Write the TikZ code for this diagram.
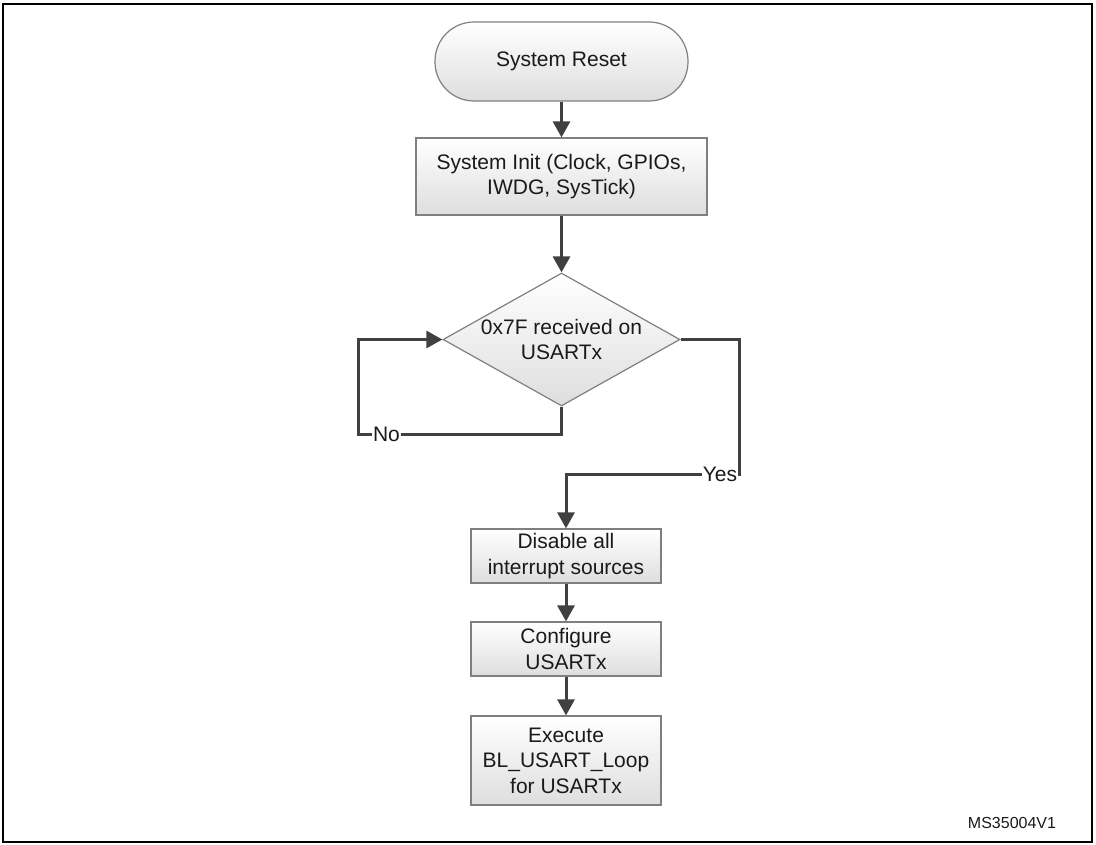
\documentclass[tikz,border=0pt]{standalone}
\usepackage{fontspec}
\setmainfont{Liberation Sans}
\usepackage{tikz}
\usetikzlibrary{positioning,arrows.meta,shapes.geometric}
\definecolor{flowline}{HTML}{404040}
\definecolor{boxedge}{HTML}{7F7F7F}
\definecolor{boxtext}{HTML}{1A1A1A}

\begin{document}
\begin{tikzpicture}[x=1pt, y=1pt, font=\fontsize{21}{25.5}\selectfont,
  stepbox/.style={draw=boxedge, line width=1.2pt, top color=white, bottom color=black!13, align=center, inner sep=0pt, text=boxtext},
  flow/.style={draw=flowline, line width=3pt, -{Triangle[length=16pt,width=17pt]}},
  lbl/.style={fill=white, inner sep=1pt, text=boxtext}]
\useasboundingbox (0,0) rectangle (1096,-845);
\draw[line width=2pt] (3,-4) rectangle (1092,-842);
% upper part
\node[stepbox, rounded corners=39pt, minimum width=253pt, minimum height=79pt] (reset) at (561.5,-61.5) {System Reset};
\node[stepbox, minimum width=291pt, minimum height=77pt] (init) at (561.5,-176.5) {System Init (Clock, GPIOs,\\ IWDG, SysTick)};
\node[stepbox, diamond, minimum width=237pt, minimum height=133pt,
  label={[align=center, text=boxtext]center:0x7F received on\\ USARTx}] (dec) at (561.5,-339.5) {};
% lower part
\node[stepbox, minimum width=190pt, minimum height=54pt] (disable) at (566,-556) {Disable all\\ interrupt sources};
\node[stepbox, minimum width=190pt, minimum height=54pt] (config) at (566,-649) {Configure\\ USARTx};
\node[stepbox, minimum width=190pt, minimum height=89pt] (exec) at (566,-760.5) {Execute\\ BL\_USART\_Loop\\ for USARTx};
\coordinate (noturn) at (358,-434);
\coordinate (yesturn) at (739,-474);
\draw[flow] (reset) -- (init);
\draw[flow] (init) -- (dec);
\draw[flow] (dec.south) |- (noturn) node[lbl, pos=0.93] {No} |- (dec.west);
\draw[flow] (dec.east) -| (yesturn) -| node[lbl, pos=0.055] {Yes} (disable.north);
\draw[flow] (disable) -- (config);
\draw[flow] (config) -- (exec);
\node[font=\fontsize{16}{19}\selectfont, text=boxtext] (docid) at (1012,-823) {MS35004V1};
\end{tikzpicture}
\end{document}
